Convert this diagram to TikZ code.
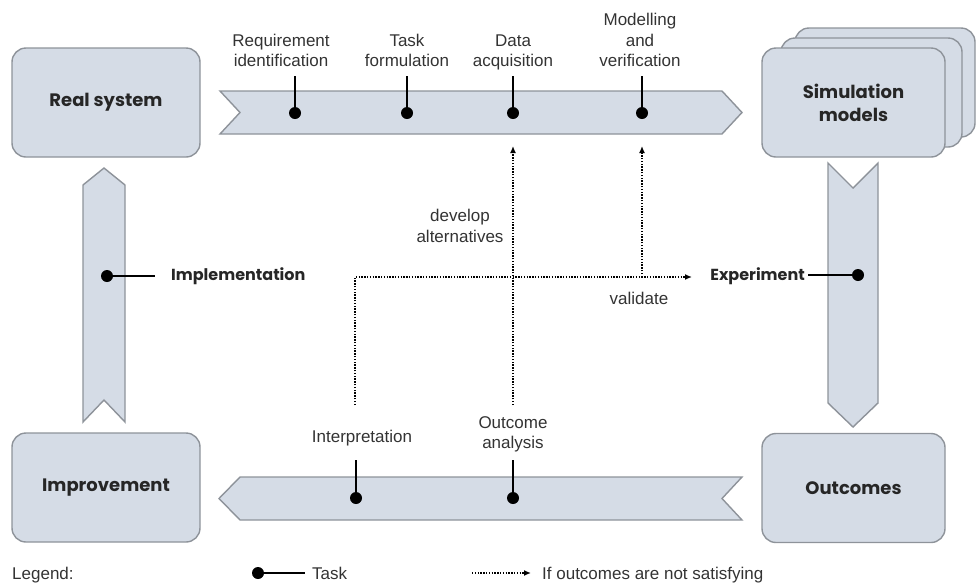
\documentclass[tikz,border=0pt]{standalone}
\usepackage{fontspec}
\setmainfont{Liberation Sans}
\newfontfamily\popb{Poppins}
\usetikzlibrary{arrows.meta}
\definecolor{bandfill}{HTML}{D5DCE6}
\definecolor{bandline}{HTML}{8E939A}
\definecolor{txt}{HTML}{333333}
\definecolor{btxt}{HTML}{262626}
\tikzset{
  box/.style={draw=bandline, fill=bandfill, line width=1.4pt, rounded corners=14pt,
    minimum width=#1, minimum height=109pt, inner sep=0pt, align=center, text=btxt,
    font=\popb\bfseries\fontsize{18}{23}\selectfont},
  box/.default=188pt,
  band/.style={draw=bandline, fill=bandfill, line width=1.4pt, line join=miter},
  taskdot/.style={circle, fill=black, inner sep=0pt, minimum size=12pt},
  stem/.style={line width=2.4pt, black},
  lbl/.style={align=center, inner sep=0pt, text=txt, text depth=4pt,
    font=\fontsize{17}{20.5}\selectfont},
  blbl/.style={inner sep=0pt, text=btxt, font=\popb\bfseries\fontsize{16}{20}\selectfont},
  fb/.style={line width=1.8pt, dash pattern=on 1.4pt off 1.4pt,
    -{Latex[length=7pt,width=6pt]}},
}
\begin{document}
\begin{tikzpicture}[x=1pt,y=-1pt]
\useasboundingbox (0,0) rectangle (977,582);
% boxes
\node[box] (real) at (106,102.5) {Real system};
\node[box] (impr) at (106,487.5) {Improvement};
\node[box=183pt] (outc) at (853.5,488) {Outcomes};
\node[box=180pt] (sim3) at (885,82.5) {};
\node[box=181pt] (sim2) at (871.5,92.5) {};
\node[box=183pt] (sim) at (853.5,102.5) {Simulation\\models};
% bands
\path[band] (220,91) -- (722,91) -- (742,112.5) -- (722,134) -- (220,134) -- (240,112.5) -- cycle;
\path[band] (742,477) -- (240,477) -- (219,498.5) -- (240,520) -- (742,520) -- (722,498.5) -- cycle;
\path[band] (83,422) -- (83,185) -- (104,168) -- (125,185) -- (125,422) -- (104,400) -- cycle;
\path[band] (828,163) -- (853,188) -- (878,163) -- (878,403) -- (853,427) -- (828,403) -- cycle;
% top tasks
\node[lbl, anchor=south] (l1) at (281,71) {Requirement\\identification};
\node[lbl, anchor=south] (l2) at (407,71) {Task\\formulation};
\node[lbl, anchor=south] (l3) at (513,71) {Data\\acquisition};
\node[lbl, anchor=south] (l4) at (640,71) {Modelling\\and\\verification};
\node[taskdot] (t1) at (295,113) {};
\node[taskdot] (t2) at (407,113) {};
\node[taskdot] (t3) at (513,113) {};
\node[taskdot] (t4) at (642,113) {};
\coordinate (s1) at (295,76);
\coordinate (s2) at (407,76);
\coordinate (s3) at (513,76);
\coordinate (s4) at (642,76);
\draw[stem] (s1) -- (t1.center);
\draw[stem] (s2) -- (t2.center);
\draw[stem] (s3) -- (t3.center);
\draw[stem] (s4) -- (t4.center);
% bottom tasks
\node[lbl, anchor=south] (l5) at (362,447) {Interpretation};
\node[lbl, anchor=south] (l6) at (513,453) {Outcome\\analysis};
\node[taskdot] (t5) at (356,498) {};
\node[taskdot] (t6) at (513,498) {};
\coordinate (s5) at (356,460);
\coordinate (s6) at (513,460);
\draw[stem] (s5) -- (t5.center);
\draw[stem] (s6) -- (t6.center);
% side tasks
\node[taskdot] (t7) at (107,276) {};
\coordinate (s7) at (155,276);
\draw[stem] (t7.center) -- (s7);
\node[blbl, anchor=west] (impl) at (171,276) {Implementation};
\node[taskdot] (t8) at (858,275) {};
\coordinate (s8) at (808,275);
\draw[stem] (s8) -- (t8.center);
\node[blbl, anchor=east] (exp) at (805,276) {Experiment};
% feedback loops
\coordinate (f1) at (355,405);
\coordinate (f2) at (355,277);
\coordinate (f3) at (692,277);
\coordinate (f4) at (513,405);
\coordinate (f5) at (513,146);
\coordinate (f6) at (642,277);
\coordinate (f7) at (642,146);
\draw[fb] (f1) -- (f2) -- (f3);
\draw[fb] (f4) -- (f5);
\draw[fb] (f6) -- (f7);
\node[lbl, text depth=0pt] (dev) at (460,226) {develop\\alternatives};
\node[lbl, text depth=0pt] (val) at (639,298) {validate};
% legend
\node[lbl, text depth=0pt, anchor=west] (leg) at (12,573) {Legend:};
\node[taskdot] (ld) at (258,573) {};
\coordinate (ls) at (305,573);
\draw[stem] (ld.center) -- (ls);
\node[lbl, text depth=0pt, anchor=west] (ltask) at (312,573) {Task};
\coordinate (la) at (472,573);
\coordinate (lb) at (531,573);
\draw[fb] (la) -- (lb);
\node[lbl, text depth=0pt, anchor=west] (lif) at (542,573) {If outcomes are not satisfying};
\end{tikzpicture}
\end{document}
